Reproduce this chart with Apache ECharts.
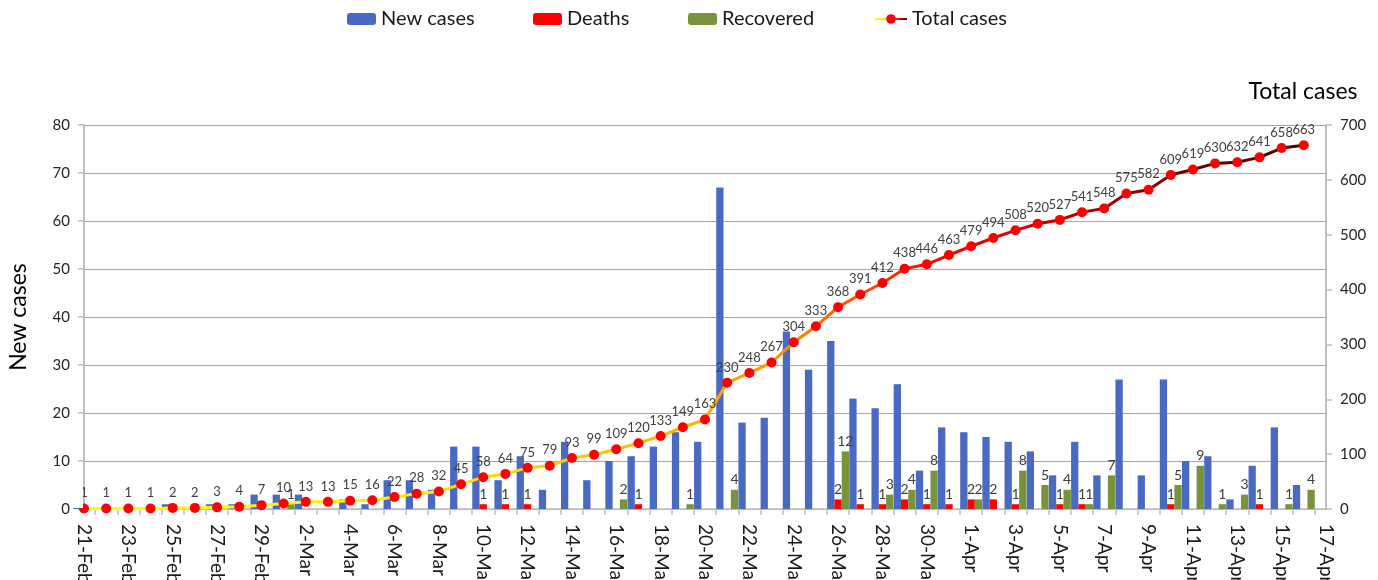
<!DOCTYPE html>
<html>
<head>
<meta charset="utf-8">
<script src="https://cdn.jsdelivr.net/npm/echarts@6/dist/echarts.min.js"></script>
<style>
    html, body { margin: 0; padding: 0; background: #fff; }
    #chart { width: 1378px; height: 580px; }
</style>
</head>
<body>
<div id="chart"></div>
<script>
// category labels, one per day (the axis runs one day past the data)
const dates = [
    '21-Feb', '22-Feb', '23-Feb', '24-Feb', '25-Feb', '26-Feb', '27-Feb', '28-Feb', '29-Feb',
    '1-Mar', '2-Mar', '3-Mar', '4-Mar', '5-Mar', '6-Mar', '7-Mar', '8-Mar', '9-Mar', '10-Mar',
    '11-Mar', '12-Mar', '13-Mar', '14-Mar', '15-Mar', '16-Mar', '17-Mar', '18-Mar', '19-Mar', '20-Mar',
    '21-Mar', '22-Mar', '23-Mar', '24-Mar', '25-Mar', '26-Mar', '27-Mar', '28-Mar', '29-Mar', '30-Mar', '31-Mar',
    '1-Apr', '2-Apr', '3-Apr', '4-Apr', '5-Apr', '6-Apr', '7-Apr', '8-Apr', '9-Apr', '10-Apr',
    '11-Apr', '12-Apr', '13-Apr', '14-Apr', '15-Apr', '16-Apr', '17-Apr'
];

const newCases = [1, 0, 0, 0, 1, 0, 1, 1, 3, 3, 3, 0, 2, 1, 6, 6, 4, 13, 13, 6, 11, 4, 14, 6, 10, 11, 13, 16, 14, 67,
    18, 19, 37, 29, 35, 23, 21, 26, 8, 17, 16, 15, 14, 12, 7, 14, 7, 27, 7, 27, 10, 11, 2, 9, 17, 5];
const deaths = [0, 0, 0, 0, 0, 0, 0, 0, 0, 0, 0, 0, 0, 0, 0, 0, 0, 0, 1, 1, 1, 0, 0, 0, 0, 1, 0, 0, 0, 0,
    0, 0, 0, 0, 2, 1, 1, 2, 1, 1, 2, 2, 1, 0, 1, 1, 0, 0, 0, 1, 0, 0, 0, 1, 0, 0];
const recovered = [0, 0, 0, 0, 0, 0, 0, 0, 0, 1, 0, 0, 0, 0, 0, 0, 0, 0, 0, 0, 0, 0, 0, 0, 2, 0, 0, 1, 0, 4,
    0, 0, 0, 0, 12, 0, 3, 4, 8, 0, 2, 0, 8, 5, 4, 1, 7, 0, 0, 5, 9, 1, 3, 0, 1, 4];
const totalCases = [1, 1, 1, 1, 2, 2, 3, 4, 7, 10, 13, 13, 15, 16, 22, 28, 32, 45, 58, 64, 75, 79, 93, 99, 109, 120,
    133, 149, 163, 230, 248, 267, 304, 333, 368, 391, 412, 438, 446, 463, 479, 494, 508, 520, 527, 541, 548,
    575, 582, 609, 619, 630, 632, 641, 658, 663];

const FONT = 'Lato, "Open Sans", sans-serif';
const AXIS_GREY = '#bfbfbf';

// half-day slots, only used to put tick marks between the days
const tickSlots = Array.from({ length: dates.length * 2 - 1 }, (_, i) => i);

const chart = echarts.init(document.getElementById('chart'), null, { renderer: 'canvas' });

const barLabel = {
    show: true,
    position: 'top',
    distance: 3,
    fontFamily: FONT,
    fontSize: 14,
    color: '#404040',
    formatter: (p) => (p.value ? String(p.value) : '')
};

const legendBase = {
    top: 9,
    padding: 0,
    itemWidth: 29,
    itemHeight: 12,
    itemGap: 0,
    textStyle: { fontFamily: FONT, fontSize: 20, color: '#1a1a1a', lineHeight: 20 }
};

const lineGradient = new echarts.graphic.LinearGradient(0, 0, 1, 0, [
    { offset: 0, color: '#ffff00' },
    { offset: 0.25, color: '#ffee00' },
    { offset: 0.4, color: '#ffcc00' },
    { offset: 0.5, color: '#ffb000' },
    { offset: 0.57, color: '#ff9000' },
    { offset: 0.64, color: '#ff4a00' },
    { offset: 0.7, color: '#ff0000' },
    { offset: 0.78, color: '#d00000' },
    { offset: 0.86, color: '#900000' },
    { offset: 0.92, color: '#620000' },
    { offset: 1, color: '#5a0000' }
]);

chart.setOption({
    animation: false,
    backgroundColor: '#ffffff',
    grid: { left: 84, right: 52, top: 125, bottom: 71, containLabel: false, outerBoundsMode: 'none' },
    legend: [
        Object.assign({ left: 347, data: ['New cases'] }, legendBase),
        Object.assign({ left: 533, data: ['Deaths'] }, legendBase),
        Object.assign({ left: 688, data: ['Recovered'] }, legendBase),
        Object.assign({ left: 874, data: ['Total cases'] }, legendBase, { itemWidth: 32 })
    ],
    // Excel clips the half bar that falls left of the first day; mask it the same way
    graphic: [{
        type: 'rect',
        left: 72,
        top: 488,
        shape: { width: 11, height: 20 },
        style: { fill: '#ffffff' },
        z: 10
    }],
    xAxis: [
        {
            type: 'category',
            data: dates,
            boundaryGap: false,
            axisLine: { show: true, lineStyle: { color: AXIS_GREY, width: 1.5 } },
            axisTick: { show: false },
            axisLabel: {
                interval: 1,
                rotate: -90,
                margin: 15,
                fontFamily: FONT,
                fontSize: 19,
                color: '#1a1a1a'
            },
            splitLine: { show: false }
        },
        {
            type: 'category',
            data: tickSlots,
            boundaryGap: false,
            position: 'bottom',
            axisLine: { show: false },
            axisTick: {
                show: true,
                length: 6,
                interval: (i) => i % 2 === 1,
                lineStyle: { color: AXIS_GREY, width: 1.5 }
            },
            axisLabel: { show: false },
            splitLine: { show: false }
        }
    ],
    yAxis: [
        {
            type: 'value',
            min: 0,
            max: 80,
            interval: 10,
            position: 'left',
            name: 'New cases',
            nameLocation: 'middle',
            nameGap: 54,
            nameTextStyle: { fontFamily: FONT, fontSize: 23, color: '#000' },
            axisLine: { show: true, lineStyle: { color: AXIS_GREY, width: 2 } },
            axisTick: { show: true, length: 6, lineStyle: { color: AXIS_GREY, width: 1.5 } },
            axisLabel: { margin: 14, fontFamily: FONT, fontSize: 15, color: '#262626' },
            splitLine: { show: true, lineStyle: { color: '#a6a6a6', width: 1 } }
        },
        {
            type: 'value',
            min: 0,
            max: 700,
            interval: 100,
            position: 'right',
            name: 'Total cases',
            nameLocation: 'end',
            nameGap: 22,
            nameTextStyle: { fontFamily: FONT, fontSize: 23, color: '#000', padding: [0, 46, 0, 0] },
            axisLine: { show: true, lineStyle: { color: AXIS_GREY, width: 2 } },
            axisTick: { show: true, length: 6, lineStyle: { color: AXIS_GREY, width: 1.5 } },
            axisLabel: { margin: 14, fontFamily: FONT, fontSize: 15, color: '#262626' },
            splitLine: { show: false }
        }
    ],
    series: [
        {
            name: 'New cases',
            type: 'bar',
            data: newCases,
            barWidth: 7.3,
            barGap: '0%',
            itemStyle: { color: '#4a69c3' }
        },
        {
            name: 'Deaths',
            type: 'bar',
            data: deaths,
            barWidth: 7.3,
            barGap: '0%',
            itemStyle: { color: '#ff0000' },
            label: barLabel
        },
        {
            name: 'Recovered',
            type: 'bar',
            data: recovered,
            barWidth: 7.3,
            barGap: '0%',
            itemStyle: { color: '#77933c' },
            label: barLabel
        },
        {
            name: 'Total cases',
            type: 'line',
            yAxisIndex: 1,
            data: totalCases,
            symbol: 'circle',
            symbolSize: 10,
            z: 5,
            lineStyle: { width: 3, color: lineGradient },
            itemStyle: { color: '#ff0000' },
            label: {
                show: true,
                position: 'top',
                distance: 4,
                fontFamily: FONT,
                fontSize: 13,
                color: '#404040'
            }
        }
    ]
});

window.onresize = () => chart.resize();
</script>
</body>
</html>
